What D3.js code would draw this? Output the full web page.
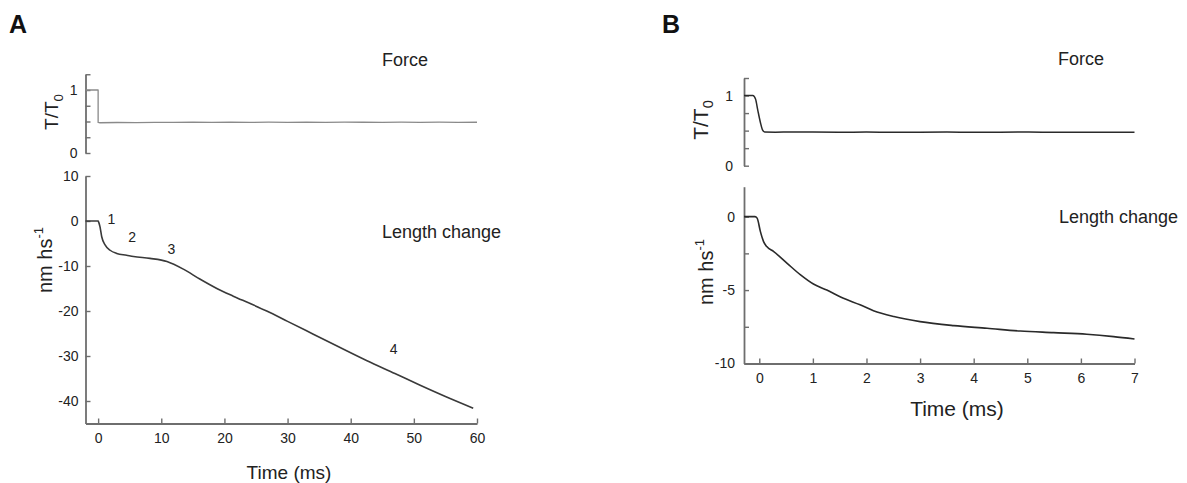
<!DOCTYPE html>
<html>
<head>
<meta charset="utf-8">
<script src="https://cdn.jsdelivr.net/npm/d3@7"></script>
<style>
  html, body { margin: 0; padding: 0; background: #fff; }
  svg { display: block; font-family: "Liberation Sans", Arial, sans-serif; }
</style>
</head>
<body>
<svg id="chart" width="1187" height="483"></svg>
<script>
// ---------- DATA ----------
// Panel A: force (T/T0) vs time (ms)
const forceA_t = [-2, 0, 0, 0.3, 3, 6, 9, 12, 15, 18, 21, 24, 27, 30, 33, 36, 39, 42, 45, 48, 51, 54, 57, 60];
const forceA_v = [1, 1, 0.485, 0.48, 0.484, 0.482, 0.487, 0.485, 0.488, 0.486, 0.49, 0.486, 0.489, 0.487, 0.49, 0.486, 0.489, 0.488, 0.486, 0.489, 0.487, 0.489, 0.487, 0.488];
// Panel A: length change (nm per half-sarcomere) vs time (ms)
const lenA_t = [-2, 0, 0.1, 0.3, 0.57, 1.1, 1.9, 2.95, 4.5, 5.6, 8.2, 10.9, 13.5, 16.1, 18.8, 21.4, 24, 26.7, 30, 34, 38, 42.5, 47, 51, 55, 59.4];
const lenA_v = [0, 0, -0.3, -1.3, -3.5, -5.3, -6.5, -7.2, -7.6, -7.9, -8.3, -9.0, -10.7, -12.9, -15.0, -16.7, -18.3, -20.0, -22.3, -25.1, -27.9, -31.0, -33.9, -36.5, -39.0, -41.6];
// Phase annotations in panel A
const phaseLabels = ["1", "2", "3", "4"];
const phaseT = [2.1, 5.4, 11.6, 46.8];
const phaseV = [0.4, -3.6, -6.3, -28.4];

// Panel B: force vs time (ms)
const forceB_t = [-0.285, -0.12, -0.07, -0.03, 0.02, 0.06, 0.1, 0.3, 0.6, 1, 1.5, 2, 2.5, 3, 3.5, 4, 4.5, 5, 5.5, 6, 6.5, 7];
const forceB_v = [1, 1, 0.95, 0.8, 0.62, 0.51, 0.48, 0.478, 0.482, 0.479, 0.477, 0.48, 0.476, 0.478, 0.479, 0.476, 0.478, 0.479, 0.477, 0.476, 0.478, 0.477];
// Panel B: length change vs time (ms)
const lenB_t = [-0.285, -0.08, -0.04, 0.02, 0.08, 0.14, 0.27, 0.52, 0.77, 1.01, 1.26, 1.57, 1.88, 2.13, 2.51, 3.0, 3.63, 4.25, 4.87, 5.49, 6.11, 6.61, 7.0];
const lenB_v = [0, 0, -0.1, -1.0, -1.7, -2.04, -2.38, -3.18, -3.97, -4.59, -5.0, -5.56, -6.0, -6.4, -6.8, -7.15, -7.42, -7.6, -7.79, -7.9, -8.01, -8.17, -8.33];

// Tick values
const forceTicks = [0, 0.25, 0.5, 0.75, 1, 1.25];
const forceTickLabels = {0: "0", 1: "1"};
const lenA_ticks = [-40, -30, -20, -10, 0, 10];
const timeA_ticks = [0, 10, 20, 30, 40, 50, 60];
const lenB_ticks = [-10, -7.5, -5, -2.5, 0];
const lenB_tickLabels = {"-10": "-10", "-5": "-5", "0": "0"};
const timeB_ticks = [0, 1, 2, 3, 4, 5, 6, 7];

// ---------- DRAWING ----------
const svg = d3.select("#chart");
const AXIS = "#6e6e6e", TXT = "#222";
const plain = d => String(d);   // hyphen-minus as in the original figure

// Scales
const xA = d3.scaleLinear().domain([-2, 60]).range([85.5, 477]);
const yFA = d3.scaleLinear().domain([0, 1.25]).range([153, 74.25]);
const yLA = d3.scaleLinear().domain([-45, 10]).range([423.5, 176]);

const xB = d3.scaleLinear().domain([-0.285, 7]).range([744, 1134.5]);
const yFB = d3.scaleLinear().domain([0, 1.25]).range([165.7, 78]);
const yLB = d3.scaleLinear().domain([-10, 2.04]).range([363.5, 186.7]);

function styleAxis(g) {
  g.selectAll("path.domain").attr("stroke", AXIS).attr("stroke-width", 1.8);
  g.selectAll(".tick line").attr("stroke", AXIS).attr("stroke-width", 1.4);
  g.selectAll(".tick text").attr("fill", TXT).attr("font-size", 14)
    .attr("font-family", "'Liberation Sans', Arial, sans-serif");
}

function yAxis(x, scale, ticks, fmt, pad) {
  const g = svg.append("g").attr("transform", `translate(${x},0)`)
    .call(d3.axisLeft(scale).tickValues(ticks).tickFormat(fmt)
      .tickSizeInner(-5).tickSizeOuter(0).tickPadding(pad));
  styleAxis(g);
  return g;
}
function xAxis(y, scale, ticks, pad) {
  const g = svg.append("g").attr("transform", `translate(0,${y})`)
    .call(d3.axisBottom(scale).tickValues(ticks).tickFormat(plain)
      .tickSizeInner(-5).tickSizeOuter(0).tickPadding(pad));
  styleAxis(g);
  return g;
}

// Panel A axes
yAxis(85.5, yFA, forceTicks, d => forceTickLabels[d] || "", 8);
yAxis(85.5, yLA, lenA_ticks, plain, 7);
xAxis(423.5, xA, timeA_ticks, 10);

// Panel B axes
yAxis(744, yFB, forceTicks, d => forceTickLabels[d] || "", 11);
yAxis(744, yLB, lenB_ticks, d => lenB_tickLabels[String(d)] || "", 9);
xAxis(363.5, xB, timeB_ticks, 10);

// Lines
function drawLine(ts, vs, xs, ys, color, width, curve) {
  const pts = ts.map((t, i) => [t, vs[i]]);
  svg.append("path").datum(pts)
    .attr("fill", "none").attr("stroke", color).attr("stroke-width", width)
    .attr("stroke-linejoin", "round")
    .attr("d", d3.line().x(d => xs(d[0])).y(d => ys(d[1])).curve(curve));
}
drawLine(forceA_t, forceA_v, xA, yFA, "#8a8a8a", 1.3, d3.curveLinear);
drawLine(lenA_t, lenA_v, xA, yLA, "#3a3a3a", 1.6, d3.curveMonotoneX);
drawLine(forceB_t, forceB_v, xB, yFB, "#2a2a2a", 1.5, d3.curveMonotoneX);
drawLine(lenB_t, lenB_v, xB, yLB, "#2a2a2a", 1.6, d3.curveMonotoneX);

// Phase annotations
svg.append("g").selectAll("text").data(phaseLabels).join("text")
  .attr("x", (d, i) => xA(phaseT[i])).attr("y", (d, i) => yLA(phaseV[i]))
  .attr("dy", "0.35em").attr("text-anchor", "middle")
  .attr("font-size", 14).attr("fill", TXT).text(d => d);

// Panel letters
svg.append("text").attr("x", 9).attr("y", 33).attr("font-size", 25)
  .attr("font-weight", "bold").attr("fill", "#111").text("A");
svg.append("text").attr("x", 662).attr("y", 33).attr("font-size", 25)
  .attr("font-weight", "bold").attr("fill", "#111").text("B");

// Panel titles
function label(x, y, txt, size, anchor) {
  svg.append("text").attr("x", x).attr("y", y).attr("font-size", size)
    .attr("text-anchor", anchor || "start").attr("fill", TXT).text(txt);
}
label(382, 66, "Force", 18);
label(382, 238, "Length change", 18);
label(1058, 65, "Force", 18);
label(1059, 223, "Length change", 18);

// x-axis titles
label(289, 479, "Time (ms)", 19, "middle");
label(957, 416, "Time (ms)", 21, "middle");

// y-axis titles (rotated)
function tOverT0(x, y, size) {
  const t = svg.append("text").attr("transform", `translate(${x},${y}) rotate(-90)`)
    .attr("text-anchor", "middle").attr("font-size", size).attr("fill", TXT);
  t.append("tspan").text("T/T");
  t.append("tspan").attr("font-size", size * 0.7).attr("dy", size * 0.25).text("0");
}
function nmhs(x, y, size) {
  const t = svg.append("text").attr("transform", `translate(${x},${y}) rotate(-90)`)
    .attr("text-anchor", "middle").attr("font-size", size).attr("fill", TXT);
  t.append("tspan").text("nm hs");
  t.append("tspan").attr("font-size", size * 0.65).attr("dy", -size * 0.45).text("-1");
}
tOverT0(58, 112, 19);
nmhs(52, 260, 20);
tOverT0(708, 120, 21);
nmhs(713, 272, 20);
</script>
</body>
</html>
